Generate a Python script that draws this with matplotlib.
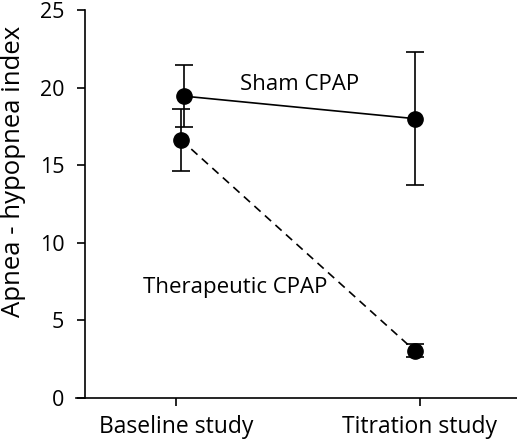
import matplotlib
matplotlib.use("Agg")
import matplotlib.pyplot as plt

categories = ["Baseline study", "Titration study"]
sham_mean = [19.45, 18.0]
sham_err = [2.0, 4.3]
ther_mean = [16.65, 3.05]
ther_err = [2.0, 0.43]

plt.rcParams['font.family'] = ['Open Sans', 'DejaVu Sans']

fig = plt.figure(figsize=(5.17, 4.4), dpi=100)
ax = fig.add_axes([0.147, 42/440, 1 - 0.147, 1 - 10/440 - 42/440])

x_cat = [0, 1]
x_sham = [0.033, 0.98]
x_ther = [0.02, 0.98]

ax.errorbar(x_sham, sham_mean, yerr=sham_err, color='black', lw=1.2,
            marker='o', ms=11, capsize=6.5, capthick=1.2, elinewidth=1.2)
ax.errorbar(x_ther, ther_mean, yerr=ther_err, color='black', lw=1.2,
            marker='o', ms=11, capsize=6.5, capthick=1.2, elinewidth=1.2,
            linestyle=(0, (5, 3.5)))

ax.text(0.262, 20.2, "Sham CPAP", fontsize=16, va='center', ha='left')
ax.text(-0.135, 7.1, "Therapeutic CPAP", fontsize=16, va='center', ha='left')

ax.set_xlim(-0.41, 1.40)
ax.set_ylim(0, 25)
ax.set_xticks(x_cat)
ax.set_xticklabels(categories, fontsize=16.5)
ax.set_yticks([0, 5, 10, 15, 20, 25])
ax.tick_params(axis='y', labelsize=15.5, direction='out', length=6, width=1.2, pad=9)
ax.tick_params(axis='x', direction='out', length=6, width=1.2, pad=6)
fig.text(14/517, 1 - 171/440, "Apnea - hypopnea index", fontsize=18.5,
         rotation=90, ha='center', va='center')

ax.spines['top'].set_visible(False)
ax.spines['right'].set_visible(False)
ax.spines['left'].set_position(('data', -0.373))
ax.spines['left'].set_linewidth(1.2)
ax.spines['bottom'].set_linewidth(1.2)

fig.savefig("out.png", dpi=100)
